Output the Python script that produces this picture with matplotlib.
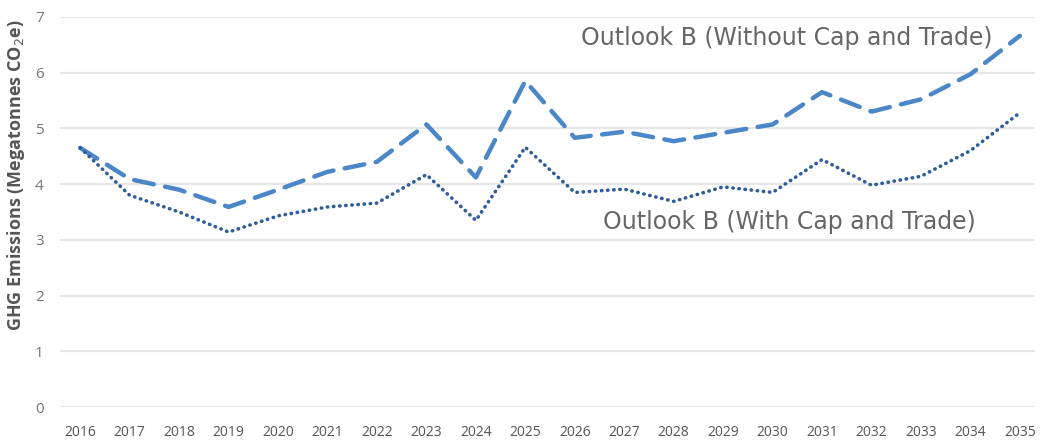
import matplotlib.pyplot as plt
import numpy as np

years = list(range(2016, 2036))
without_ct = [4.65, 4.09, 3.9, 3.59, 3.9, 4.22, 4.4, 5.07, 4.12, 5.85,
              4.83, 4.94, 4.77, 4.92, 5.07, 5.65, 5.3, 5.52, 5.97, 6.66]
with_ct = [4.65, 3.8, 3.5, 3.14, 3.43, 3.59, 3.66, 4.17, 3.35, 4.66,
           3.85, 3.91, 3.69, 3.95, 3.85, 4.44, 3.98, 4.14, 4.6, 5.28]
yticks = list(range(0, 8))

plt.rcParams['font.family'] = ['Open Sans', 'DejaVu Sans']

fig = plt.figure(figsize=(10.42, 4.43), dpi=100)
ax = fig.add_axes([0.058, 0.081, 0.935, 0.881])

ax.plot(years, without_ct, color='#4a86c8', lw=3.2, linestyle=(0, (4.5, 2.6)),
        dash_capstyle='round')
ax.plot(years, with_ct, color='#2f5d9c', lw=2.6, linestyle=(0, (0.1, 1.6)),
        dash_capstyle='round')

ax.text(2034.45, 6.62, 'Outlook B (Without Cap and Trade)', ha='right', va='center',
        fontsize=17, color='#666666', family='DejaVu Sans')
ax.text(2034.1, 3.32, 'Outlook B (With Cap and Trade)', ha='right', va='center',
        fontsize=17, color='#666666', family='DejaVu Sans')

ax.set_xlim(2015.6, 2035.3)
ax.set_ylim(0, 7)
ax.set_yticks(yticks)
ax.set_xticks(years)
ax.set_xticklabels([str(y) for y in years], fontsize=10, color='#555555')
ax.tick_params(axis='y', labelsize=11, colors='#777777', length=0, pad=12)
ax.tick_params(axis='x', length=0, pad=13)
ax.grid(axis='y', color='#e6e6e6', lw=1.6)
ax.set_axisbelow(True)
for s in ax.spines.values():
    s.set_visible(False)
ax.set_ylabel('GHG Emissions (Megatonnes CO$_2$e)', fontsize=13, fontweight='bold',
              color='#555555')
ax.yaxis.set_label_coords(-0.034, 0.595)

fig.savefig('out.png', dpi=100)
